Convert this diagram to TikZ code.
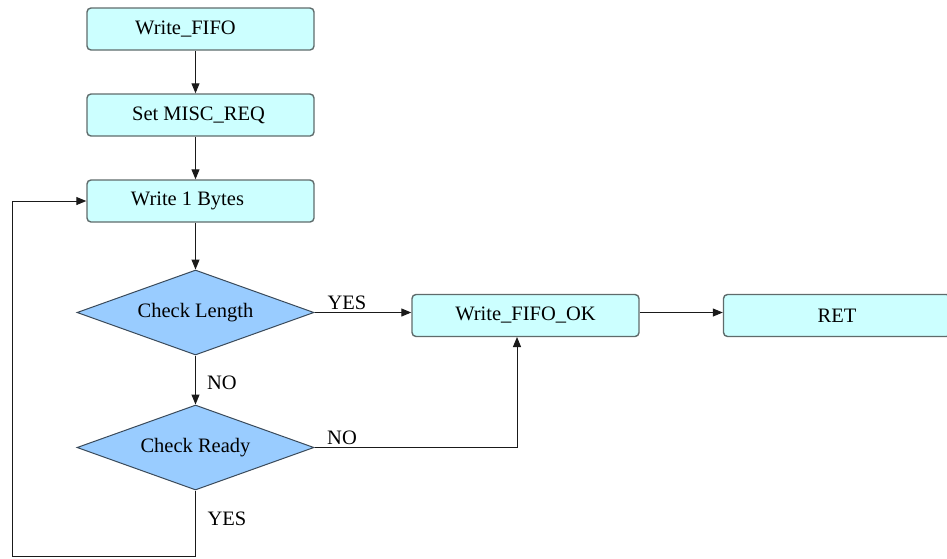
\documentclass[tikz,border=0pt]{standalone}
\usepackage{fontspec}
\setmainfont{Liberation Serif}
\usetikzlibrary{shapes.geometric,arrows.meta}
\definecolor{boxfill}{HTML}{CCFFFF}
\definecolor{boxline}{HTML}{5F6B6B}
\definecolor{decfill}{HTML}{99CCFF}
\definecolor{decline}{HTML}{3A4A5A}
\definecolor{wire}{HTML}{1A1A1A}
\begin{document}
\begin{tikzpicture}[x=1pt,y=-1pt,
  txt/.style={font=\fontsize{20.5}{24}\selectfont},
  box/.style={txt, draw=boxline, fill=boxfill, rounded corners=4pt, line width=1.4pt,
    minimum width=227pt, minimum height=42pt, inner sep=0pt},
  decision/.style={txt, diamond, draw=decline, fill=decfill, line width=1pt,
    minimum width=237pt, minimum height=85pt, aspect=2.79, inner sep=0pt},
  arr/.style={draw=wire, line width=1pt, -{Triangle[length=10pt,width=8pt]}},
  lbl/.style={txt, inner sep=0pt}]
\useasboundingbox (0,0) rectangle (947,558);

% process boxes
\node[box] (wf)  at (200.5,29)  {\hspace*{-30pt}Write\_FIFO};
\node[box] (smr) at (200.5,115) {\hspace*{-4pt}Set MISC\_REQ};
\node[box] (wb)  at (200.5,201) {\hspace*{-26pt}Write 1 Bytes};
\node[box] (ok)  at (525.5,315.5) {Write\_FIFO\_OK};
\node[box] (ret) at (837,315.5) {RET};

% decisions
\node[decision] (cl) at (195.5,312.5) {Check Length};
\node[decision] (cr) at (195.5,447.5) {Check Ready};

% helper points
\coordinate (okin) at (517,337);
\coordinate (lb) at (12,556);

% main flow
\draw[arr] (wf.south -| cl.north) -- (smr.north -| cl.north);
\draw[arr] (smr.south -| cl.north) -- (wb.north -| cl.north);
\draw[arr] (wb.south -| cl.north) -- (cl.north);
\draw[arr] (cl.east) -- (cl.east -| ok.west);
\draw[arr] (ok.east |- cl.east) -- (ret.west |- cl.east);
\draw[arr] (cl.south) -- (cr.north);
\draw[arr] (cr.east) -| (okin);
\draw[arr] (cr.south) |- (lb) |- (wb.west);

% branch labels
\node[lbl] (l1) at (347,303) {YES};
\node[lbl] (l2) at (222,383) {NO};
\node[lbl] (l3) at (342,438) {NO};
\node[lbl] (l4) at (227,519) {YES};
\end{tikzpicture}
\end{document}
